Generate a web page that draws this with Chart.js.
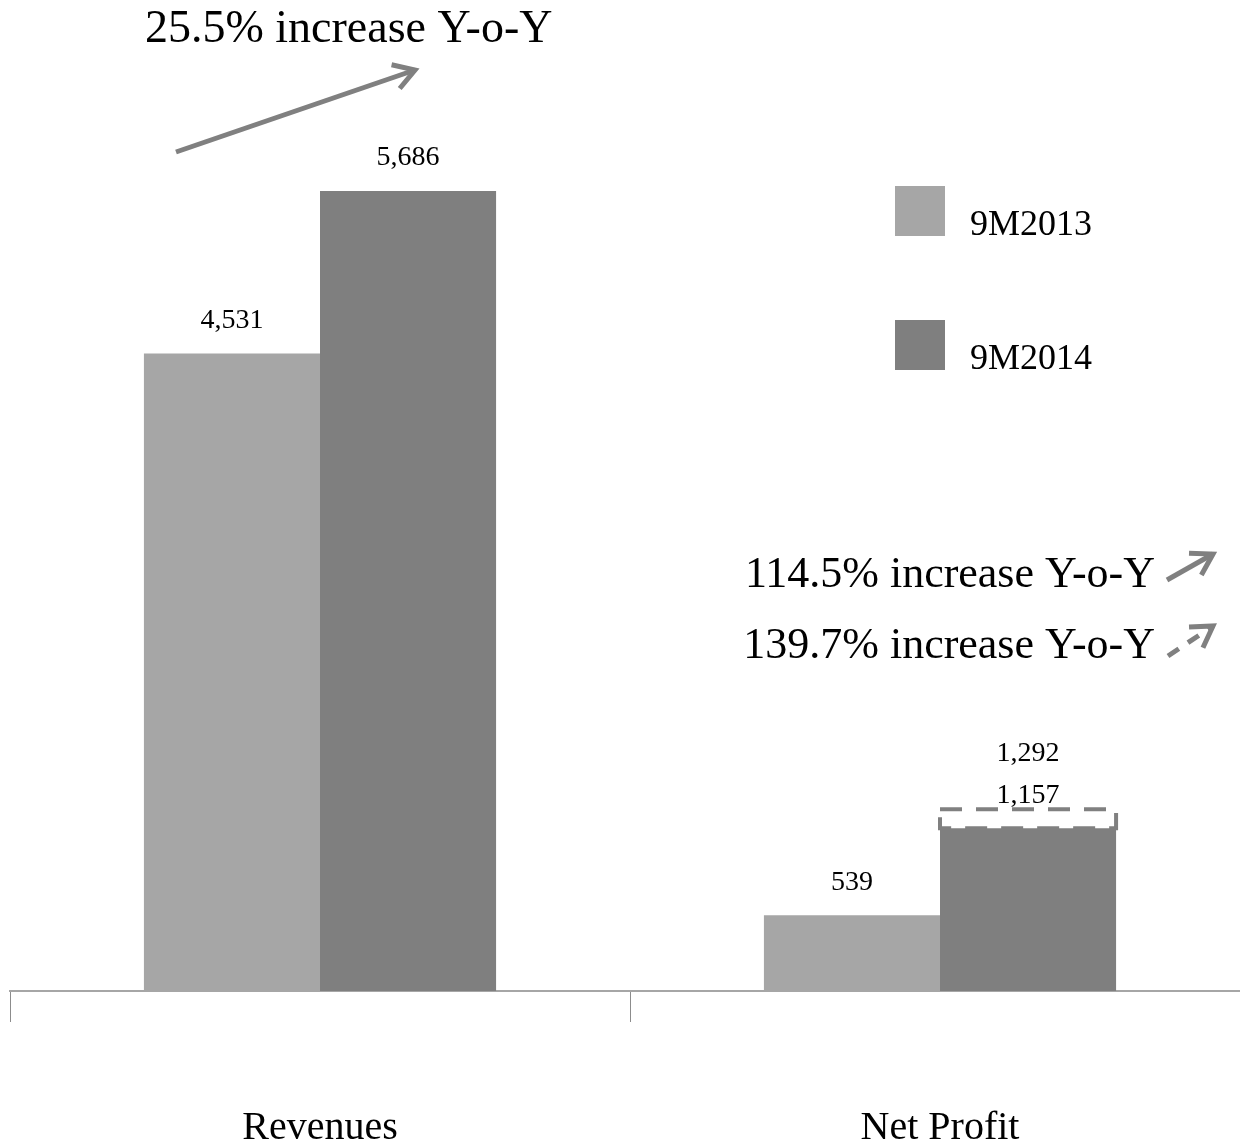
<!DOCTYPE html>
<html>
<head>
<meta charset="utf-8">
<script src="https://cdn.jsdelivr.net/npm/chart.js@4.4.0/dist/chart.umd.min.js"></script>
<style>
    html, body { margin: 0; padding: 0; background: #fff; }
    #wrap { width: 1240px; height: 1147px; overflow: hidden; }
</style>
</head>
<body>
<!-- the axis runs on past the right edge, so the canvas is a little wider than the frame -->
<div id="wrap"><canvas id="chartResults" width="1250" height="1147"></canvas></div>
<script>
const categories = ['Revenues', 'Net Profit']
const seriesLabels = ['9M2013', '9M2014']
const values2013 = [4531, 539]
const values2014 = [5686, 1157]
// adjusted 9M2014 figure, drawn as the dashed outline on top of the bar
const adjusted2014 = [null, 1292]
const growthNotes = ['25.5% increase Y-o-Y', '114.5% increase Y-o-Y', '139.7% increase Y-o-Y']

const colors = ['#a6a6a6', '#7f7f7f']
const arrowColor = '#808080'
const serif = '"Liberation Serif", "Times New Roman", serif'

function fmt(v) {
    return v.toLocaleString('en-US')
}

function drawArrow(ctx, x1, y1, x2, y2, dashed) {
    var ang = Math.atan2(y2 - y1, x2 - x1)
    var head = 24
    ctx.save()
    ctx.strokeStyle = arrowColor
    ctx.lineWidth = 5
    ctx.lineCap = 'butt'
    if (dashed) ctx.setLineDash([13, 11])
    ctx.beginPath()
    ctx.moveTo(x1, y1)
    ctx.lineTo(x2, y2)
    ctx.stroke()
    ctx.setLineDash([])
    ctx.lineJoin = 'miter'
    ctx.beginPath()
    ctx.moveTo(x2 - head * Math.cos(ang - 0.55), y2 - head * Math.sin(ang - 0.55))
    ctx.lineTo(x2, y2)
    ctx.lineTo(x2 - head * Math.cos(ang + 0.55), y2 - head * Math.sin(ang + 0.55))
    ctx.stroke()
    ctx.restore()
}

// numbers above each bar
const valueLabels = {
    id: 'valueLabels',
    afterDatasetsDraw(chart) {
        var ctx = chart.ctx
        ctx.save()
        ctx.font = '28px ' + serif
        ctx.fillStyle = '#000'
        ctx.textAlign = 'center'
        ctx.textBaseline = 'middle'
        chart.data.datasets.forEach((ds, i) => {
            chart.getDatasetMeta(i).data.forEach((bar, j) => {
                ctx.fillText(fmt(ds.data[j]), bar.x, bar.y - 33)
            })
        })
        ctx.restore()
    }
}

// dashed outline for the adjusted figure
const adjustedBox = {
    id: 'adjustedBox',
    afterDatasetsDraw(chart) {
        var ctx = chart.ctx
        var yScale = chart.scales.y
        var meta = chart.getDatasetMeta(1)
        adjusted2014.forEach((v, j) => {
            if (v == null) return
            var bar = meta.data[j]
            var left = bar.x - bar.width / 2
            var right = bar.x + bar.width / 2
            var top = yScale.getPixelForValue(v)
            ctx.save()
            ctx.strokeStyle = arrowColor
            ctx.lineWidth = 4
            ctx.setLineDash([22, 14])
            ctx.strokeRect(left, top, right - left, bar.y - top)
            ctx.setLineDash([])
            ctx.font = '28px ' + serif
            ctx.fillStyle = '#000'
            ctx.textAlign = 'center'
            ctx.textBaseline = 'middle'
            ctx.fillText(fmt(v), bar.x, top - 56)
            ctx.restore()
        })
    }
}

// legend boxes on the right
const sideLegend = {
    id: 'sideLegend',
    afterDraw(chart) {
        var ctx = chart.ctx
        ctx.save()
        chart.data.datasets.forEach((ds, i) => {
            var y = 186 + i * 134
            ctx.fillStyle = ds.backgroundColor
            ctx.fillRect(895, y, 50, 50)
            ctx.fillStyle = '#000'
            ctx.font = '36px ' + serif
            ctx.textAlign = 'left'
            ctx.textBaseline = 'alphabetic'
            ctx.fillText(ds.label, 970, y + 49)
        })
        ctx.restore()
    }
}

// growth notes and arrows
const growthNotesPlugin = {
    id: 'growthNotes',
    afterDraw(chart) {
        var ctx = chart.ctx
        ctx.save()
        ctx.fillStyle = '#000'
        ctx.font = '46px ' + serif
        ctx.textBaseline = 'alphabetic'
        ctx.textAlign = 'left'
        ctx.fillText(growthNotes[0], 145, 42)
        ctx.font = '44px ' + serif
        ctx.textAlign = 'right'
        ctx.fillText(growthNotes[1], 1155, 587)
        ctx.fillText(growthNotes[2], 1155, 658)
        ctx.restore()
        drawArrow(ctx, 176, 152, 415, 70, false)
        drawArrow(ctx, 1167, 580, 1213, 554, false)
        drawArrow(ctx, 1168, 656, 1213, 626, true)
    }
}

const config = {
    type: 'bar',
    data: {
        labels: categories,
        datasets: [{
                label: seriesLabels[0],
                data: values2013,
                backgroundColor: colors[0],
                barPercentage: 1,
                categoryPercentage: 0.568,
            },
            {
                label: seriesLabels[1],
                data: values2014,
                backgroundColor: colors[1],
                barPercentage: 1,
                categoryPercentage: 0.568,
            }
        ]
    },
    options: {
        responsive: false,
        animation: false,
        layout: {
            padding: { left: 10, right: 0, top: 6, bottom: 0 }
        },
        plugins: {
            legend: { display: false },
            tooltip: { enabled: false },
        },
        scales: {
            x: {
                offset: true,
                grid: {
                    offset: true,
                    drawOnChartArea: false,
                    tickLength: 31,
                    color: '#8c8c8c',
                    lineWidth: 1,
                },
                border: { color: '#a6a6a6', width: 2 },
                ticks: {
                    padding: 82,
                    color: '#000',
                    font: { family: serif, size: 40 }
                },
                afterFit: function(scale) {
                    scale.height = 156
                }
            },
            y: {
                display: false,
                min: 0,
                max: 7000,
            }
        }
    },
    plugins: [adjustedBox, valueLabels, sideLegend, growthNotesPlugin]
}

var chartResults = new Chart(document.getElementById('chartResults'), config)
</script>
</body>
</html>
